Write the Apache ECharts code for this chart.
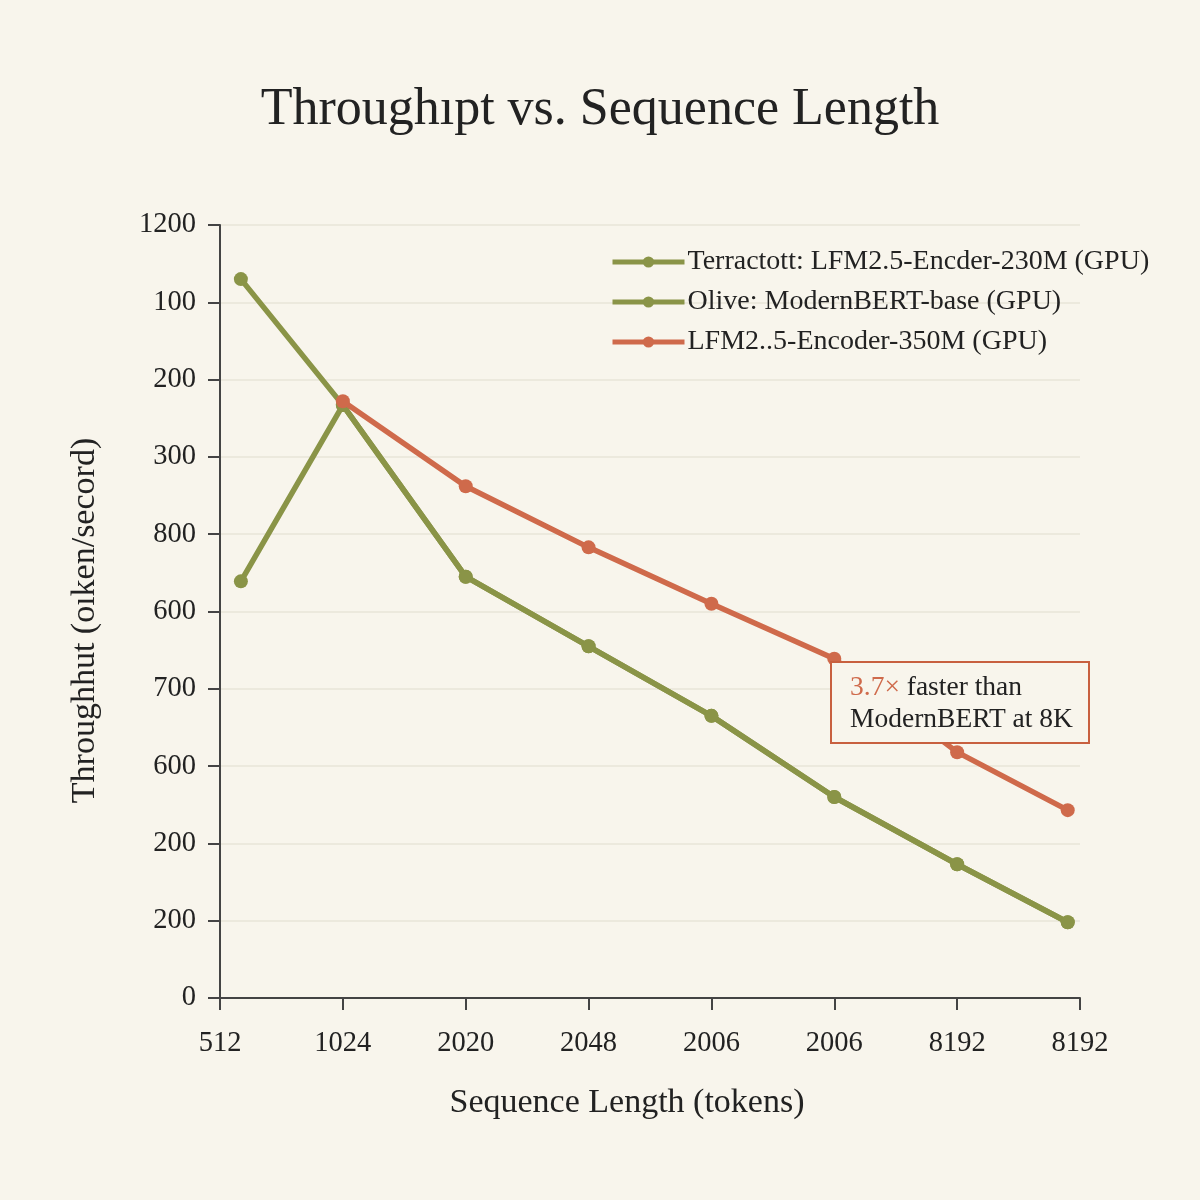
<!DOCTYPE html>
<html>
<head>
<meta charset="utf-8">
<script src="https://cdn.jsdelivr.net/npm/echarts@6/dist/echarts.min.js"></script>
<style>
  html, body { margin: 0; padding: 0; background: #f8f5ec; }
  #chart { width: 1200px; height: 1200px; }
</style>
</head>
<body>
<div id="chart"></div>
<script>
const xTickLabels = ['512', '1024', '2020', '2048', '2006', '2006', '8192', '8192'];
const yTickLabels = ['0', '200', '200', '600', '700', '600', '800', '300', '200', '100', '1200'];

// x positions along the tick slots (first and last sit a little inside)
const xPos = [0.17, 1, 2, 3, 4, 5, 6, 6.9];
const terracotta = [930, 767, 545, 455, 365, 260, 173, 98];
const olive = [539, 767, 545, 455, 365, 260, 173, 98];
const lfm350 = [null, 772, 662, 583, 510, 439, 318, 243];

const green = '#8a9447';
const red = '#cf6a4b';
const ink = '#222';
const font = '"Liberation Serif", "DejaVu Serif", serif';

const pairs = (ys) => ys.map((y, i) => (y === null ? null : [xPos[i], y])).filter(p => p);

const chart = echarts.init(document.getElementById('chart'));

chart.setOption({
  backgroundColor: '#f8f5ec',
  textStyle: { fontFamily: font, color: ink },
  title: {
    text: 'Throughıpt vs. Sequence Length',
    left: 'center',
    top: 79,
    textStyle: { fontFamily: font, fontSize: 52, fontWeight: 'normal', color: ink },
  },
  grid: { left: 220, right: 120, top: 225, bottom: 202 },
  legend: {
    orient: 'vertical',
    left: 605,
    top: 243,
    itemWidth: 72,
    itemHeight: 14,
    itemGap: 12,
    textStyle: { fontFamily: font, fontSize: 28, color: ink, padding: [0, 0, 0, -2] },
    lineStyle: { width: 5 },
    data: [
      'Terractott: LFM2.5-Encder-230M (GPU)',
      'Olive: ModernBERT-base (GPU)',
      'LFM2..5-Encoder-350M (GPU)',
    ],
  },
  xAxis: {
    type: 'value',
    min: 0,
    max: 7,
    interval: 1,
    name: 'Sequence Length (tokens)',
    nameLocation: 'middle',
    nameGap: 88,
    nameTextStyle: { fontFamily: font, fontSize: 34, color: ink, padding: [0, 46, 0, 0] },
    axisLine: { lineStyle: { color: '#444', width: 2 } },
    axisTick: { length: 12, lineStyle: { color: '#444', width: 2 } },
    axisLabel: {
      margin: 31,
      fontFamily: font,
      fontSize: 28.5,
      color: ink,
      formatter: v => xTickLabels[Math.round(v)],
    },
    splitLine: { show: false },
  },
  yAxis: {
    type: 'value',
    min: 0,
    max: 1000,
    interval: 100,
    name: 'Throughhut (oıken/secord)',
    nameLocation: 'middle',
    nameGap: 118,
    nameTextStyle: { fontFamily: font, fontSize: 34, color: ink, padding: [0, 18, 0, 0] },
    axisLine: { show: true, lineStyle: { color: '#444', width: 2 } },
    axisTick: { show: true, length: 12, lineStyle: { color: '#444', width: 2 } },
    axisLabel: {
      margin: 24,
      fontFamily: font,
      fontSize: 28.5,
      color: ink,
      formatter: v => yTickLabels[Math.round(v / 100)],
    },
    splitLine: { show: true, lineStyle: { color: '#e9e5d9', width: 1.5 } },
  },
  series: [
    {
      name: 'Terractott: LFM2.5-Encder-230M (GPU)',
      type: 'line',
      data: pairs(terracotta),
      color: green,
      lineStyle: { width: 5.5, color: green },
      symbol: 'circle',
      symbolSize: 14,
      itemStyle: { color: green },
      z: 3,
    },
    {
      name: 'Olive: ModernBERT-base (GPU)',
      type: 'line',
      data: pairs(olive),
      color: green,
      lineStyle: { width: 5.5, color: green },
      symbol: 'circle',
      symbolSize: 14,
      itemStyle: { color: green },
      z: 3,
    },
    {
      name: 'LFM2..5-Encoder-350M (GPU)',
      type: 'line',
      data: pairs(lfm350),
      color: red,
      lineStyle: { width: 5.5, color: red },
      symbol: 'circle',
      symbolSize: 14,
      itemStyle: { color: red },
      z: 4,
    },
  ],
  graphic: [
    {
      type: 'rect',
      left: 830,
      top: 661,
      shape: { width: 258, height: 81 },
      style: { fill: '#f8f5ec', stroke: '#c8603f', lineWidth: 2 },
      z: 100,
    },
    {
      type: 'text',
      left: 850,
      top: 672,
      z: 101,
      style: {
        text: '{r|3.7×} faster than\nModernBERT at 8K',
        fontFamily: font,
        fontSize: 27.5,
        lineHeight: 32,
        fill: ink,
        rich: {
          r: { fontFamily: font, fontSize: 27.5, fill: red },
        },
      },
    },
  ],
});
</script>
</body>
</html>
